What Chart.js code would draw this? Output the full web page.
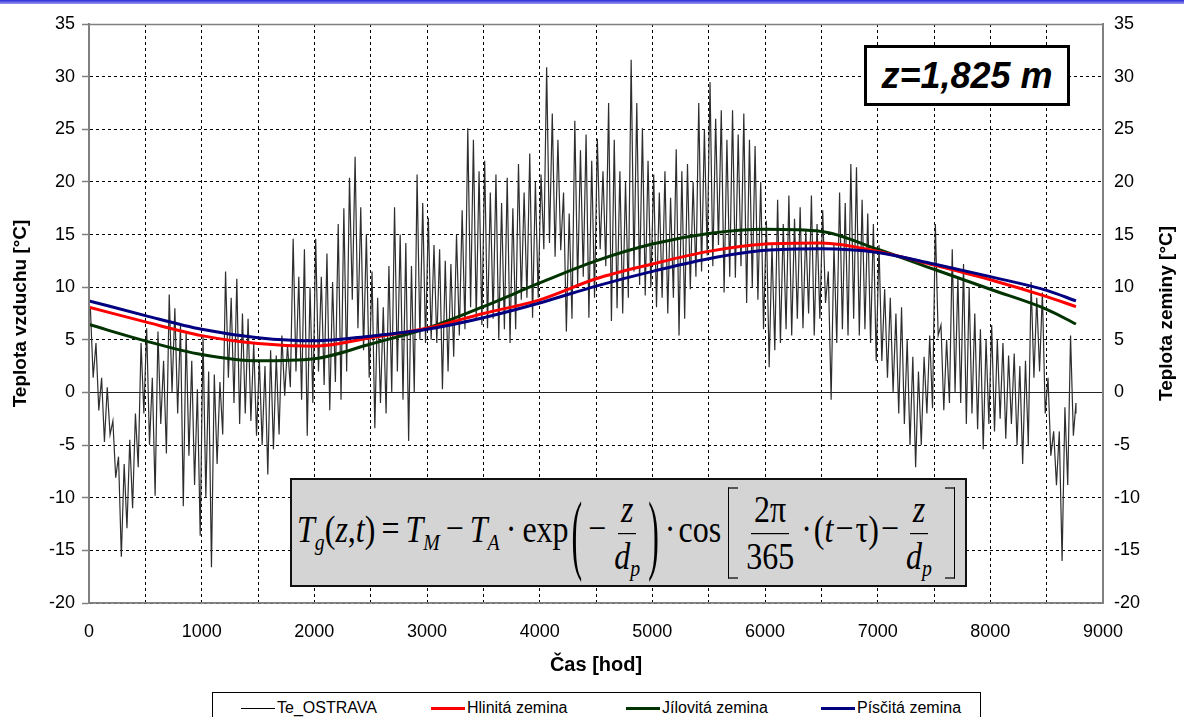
<!DOCTYPE html>
<html><head><meta charset="utf-8">
<script src="https://cdn.jsdelivr.net/npm/chart.js@4.4.1/dist/chart.umd.min.js"></script>
<style>
html,body{margin:0;padding:0;background:#fff;width:1184px;height:717px;overflow:hidden;font-family:"Liberation Sans",Arial,sans-serif;}
#wrap{position:relative;width:1184px;height:717px;}
#topbar{position:absolute;left:0;top:0;width:1184px;height:4px;background:linear-gradient(#2a2ad6,#9c9cf2);}
#c{position:absolute;left:0;top:0;}
#zbox{position:absolute;left:864px;top:45px;width:200px;height:55px;border:3px solid #000;background:#fff;font:italic bold 36px "Liberation Sans",Arial,sans-serif;display:flex;align-items:center;justify-content:center;color:#000;}
#formula{position:absolute;left:290px;top:478px;width:673px;height:105px;border:2px solid #111;background:#d4d4d4;display:flex;align-items:center;overflow:hidden;}
#fx{white-space:nowrap;font-family:"Liberation Serif","Times New Roman",serif;font-size:32px;color:#000;padding-left:5px;line-height:1.2;transform:scaleY(1.2);transform-origin:center center;}
#fx i{font-style:italic;}
#fx .sb{font-size:62%;position:relative;top:0.32em;}
#fx .op{margin:0 3px;}
#fx .opw{margin:0 6px;}
#fx .opn{margin:0 2px;}
#fx .frac{display:inline-flex;flex-direction:column;align-items:center;vertical-align:middle;margin:0 2px;line-height:1.1;}
#fx .num{border-bottom:1.5px solid #000;padding:0 3px 1px 3px;}
#fx .den{padding:1px 3px 0 3px;}
#fx .bigp{display:inline-block;vertical-align:middle;transform:scaleY(2.3);margin:0 3px;line-height:1;}
#fx .brl,#fx .brr{display:inline-block;vertical-align:middle;width:9px;height:74px;border:1.5px solid #000;}
#fx .brl{border-right:none;margin:0 3px 0 7px;}
#fx .brr{border-left:none;margin:0 0 0 8px;}
#legend{position:absolute;left:212px;top:692px;width:767px;height:40px;border:1px solid #000;background:#fff;}
.li{position:absolute;top:6px;display:flex;align-items:center;font-size:16px;color:#000;height:18px;}
.li .sw{display:inline-block;width:34px;margin-right:2px;}
</style>
</head><body>
<div id="wrap">
<canvas id="c" width="1184" height="680"></canvas>
<div id="topbar"></div>
<div id="zbox">z=1,825 m</div>
<div id="formula"><div id="fx"><i>T</i><span class="sb"><i>g</i></span>(<i>z</i>,<i>t</i>)<span class="opw">=</span><i>T</i><span class="sb"><i>M</i></span><span class="opw">−</span><i>T</i><span class="sb"><i>A</i></span><span class="opw">·</span>exp<span class="bigp">(</span><span class="op">−</span><span class="frac"><span class="num"><i>z</i></span><span class="den"><i>d</i><span class="sb"><i>p</i></span></span></span><span class="bigp">)</span><span class="op">·</span>cos<span class="brl"></span><span class="frac"><span class="num">2π</span><span class="den">365</span></span><span class="opn">·</span>(<i>t</i><span class="opn">−</span>τ)<span class="opn">−</span><span class="frac"><span class="num"><i>z</i></span><span class="den"><i>d</i><span class="sb"><i>p</i></span></span></span><span class="brr"></span></div></div>
<div id="legend"></div>
</div>
<script>
// Air temperature Te_OSTRAVA: high / low per 50-hour window
const teHigh = [
  8.1, 4.7, 1.4, 0.5, -2.7, -6.1, -6.8, -4.5, -2.0, 4.7,
  6.1, 1.4, 5.8, 3.0, 9.3, 8.0, 6.4, 5.8, 3.0, 0.3,
  5.4, 2.0, 1.7, 1.0, 11.5, 9.0, 10.8, 7.5, 7.0, 4.7,
  3.0, 2.5, 4.0, 3.5, 5.4, 4.5, 14.6, 11.0, 13.6, 10.0,
  14.6, 11.0, 13.2, 10.5, 16.0, 17.5, 20.4, 22.4, 17.6, 15.0,
  11.5, 9.0, 8.1, 12.0, 17.6, 15.0, 14.2, 12.0, 20.7, 18.0,
  16.6, 14.0, 13.6, 12.5, 12.2, 15.0, 17.3, 25.1, 24.0, 21.0,
  22.0, 19.0, 20.7, 18.0, 20.4, 17.5, 21.7, 19.0, 22.7, 20.0,
  20.7, 30.9, 26.5, 24.0, 19.0, 17.0, 25.8, 23.0, 24.5, 22.0,
  24.1, 21.0, 27.5, 24.0, 21.0, 20.0, 31.6, 27.5, 25.1, 22.0,
  20.7, 19.0, 21.0, 18.5, 23.1, 21.0, 21.7, 20.0, 27.5, 25.0,
  29.5, 26.0, 26.8, 24.0, 26.8, 24.5, 26.5, 24.0, 23.4, 20.0,
  16.3, 14.0, 18.3, 16.0, 18.7, 16.5, 17.6, 15.5, 18.7, 16.0,
  17.3, 11.5, 14.0, 19.0, 18.0, 21.7, 21.4, 18.3, 17.0, 16.0,
  14.0, 9.8, 9.0, 7.5, 8.1, 5.0, 3.4, 2.0, 3.4, 5.4,
  16.0, 6.4, 5.0, 13.6, 11.0, 12.2, 10.0, 7.5, 6.0, 5.0,
  6.4, 5.0, 4.7, 3.5, 3.7, 2.5, 3.0, 10.5, 9.0, 9.5,
  1.4, -3.7, -3.7, -1.4, 5.4, -1.0];
const teLow = [
  1.4, -1.7, -4.7, -4.0, -8.1, -15.6, -12.9, -11.0, -7.1, -2.0,
  -5.0, -9.8, -3.0, -5.8, 0.0, -2.0, -10.8, -6.0, -8.8, -13.6,
  -10.0, -16.6, -6.8, -4.0, 1.4, -1.0, -3.0, -2.0, -2.7, -4.1,
  -5.0, -7.8, -5.4, -4.0, -0.3, 0.5, 2.0, -0.7, -4.1, -1.0,
  2.0, 0.7, -1.7, 1.0, -0.7, 2.0, 8.8, 6.1, 4.0, 1.4,
  -3.4, -1.0, -2.0, 0.0, 2.0, -0.7, -4.6, 0.0, 5.0, 4.7,
  5.0, 4.7, 0.3, 2.0, 3.4, 5.4, 6.0, 8.1, 7.0, 6.4,
  6.1, 7.0, 5.1, 6.0, 4.7, 6.0, 8.8, 9.0, 7.1, 9.0,
  13.6, 14.2, 12.9, 13.5, 5.8, 7.0, 10.2, 11.0, 7.1, 9.0,
  13.6, 12.0, 6.8, 8.0, 7.5, 9.0, 11.5, 10.2, 9.2, 10.0,
  8.1, 9.0, 7.5, 9.0, 5.4, 7.0, 9.8, 11.0, 11.5, 13.0,
  12.0, 14.0, 9.5, 11.0, 10.9, 12.0, 8.5, 10.0, 8.8, 6.0,
  2.4, 4.0, 4.7, 6.0, 5.4, 7.0, 6.1, 7.5, 5.4, 7.0,
  8.5, -0.7, 4.7, 6.0, 5.4, 7.0, 5.4, 6.0, 4.7, 3.0,
  3.0, 1.4, 0.0, -2.0, -3.0, -5.0, -7.1, -5.0, -2.0, -1.5,
  5.4, -1.7, -1.0, 0.0, -1.0, -3.0, -2.0, -3.5, -5.4, -3.0,
  -3.7, -2.5, -4.4, -3.0, -5.0, -6.8, -5.0, 1.4, 2.0, -2.0,
  -6.0, -8.8, -16.0, -8.8, -4.1, -2.0];
const windowHours = 50;
const lastHour = 8760;

// Soil temperature at z = 1.825 m
const soilHours = [0, 500, 1000, 1500, 2000, 2500, 3000, 3500, 4000, 4500, 5000, 5500, 6000, 6500, 7000, 7500, 8000, 8500, 8760];
const hlinita  = [8.1, 6.7, 5.4, 4.65, 4.4, 5.2, 6.1, 7.5, 8.8, 10.8, 12.2, 13.4, 14.1, 14.2, 13.4, 12.1, 10.7, 9.1, 8.15];
const jilovita = [6.45, 4.9, 3.6, 3.0, 3.2, 4.6, 6.1, 8.15, 10.4, 12.5, 14.1, 15.1, 15.5, 15.3, 13.6, 11.7, 9.8, 7.9, 6.5];
const piscita  = [8.7, 7.3, 6.0, 5.2, 4.9, 5.35, 6.0, 7.1, 8.5, 10.1, 11.5, 12.7, 13.5, 13.65, 13.3, 12.2, 11.0, 9.7, 8.7];

const seriesLabels = ['Te_OSTRAVA', 'Hlinitá zemina', 'Jílovitá zemina', 'Písčitá zemina'];
const leftTitle = 'Teplota vzduchu [°C]';
const rightTitle = 'Teplota zeminy [°C]';
const xTitle = 'Čas [hod]';
const xMin = 0, xMax = 9000, xStep = 500, xLabelStep = 1000;
const yMin = -20, yMax = 35, yStep = 5;

const tePoints = [];
teHigh.forEach((h, i) => {
  tePoints.push({x: Math.min(i * windowHours + 12, lastHour), y: h});
  tePoints.push({x: Math.min(i * windowHours + 37, lastHour), y: teLow[i]});
});
const soil = arr => arr.map((v, i) => ({x: soilHours[i], y: v}));

Chart.defaults.font.family = '"Liberation Sans", Arial, sans-serif';
Chart.defaults.color = '#000';

const framePlugin = {
  id: 'frame',
  beforeDatasetsDraw(chart) {
    const {ctx, chartArea: a, scales: {y}} = chart;
    const y0 = Math.round(y.getPixelForValue(0)) + 0.5;
    ctx.save();
    ctx.strokeStyle = '#222'; ctx.lineWidth = 1; ctx.setLineDash([]);
    ctx.beginPath(); ctx.moveTo(a.left, y0); ctx.lineTo(a.right, y0); ctx.stroke();
    ctx.restore();
  },
  afterDatasetsDraw(chart) {
    const {ctx, chartArea: a} = chart;
    ctx.save();
    ctx.strokeStyle = '#808080'; ctx.setLineDash([]);
    ctx.lineWidth = 1.5;
    ctx.beginPath(); ctx.moveTo(a.left, a.top + 0.5); ctx.lineTo(a.right, a.top + 0.5); ctx.stroke();
    ctx.beginPath(); ctx.moveTo(a.left, a.bottom); ctx.lineTo(a.right, a.bottom); ctx.stroke();
    ctx.lineWidth = 2;
    ctx.beginPath(); ctx.moveTo(a.left, a.top); ctx.lineTo(a.left, a.bottom); ctx.stroke();
    ctx.beginPath(); ctx.moveTo(a.right, a.top); ctx.lineTo(a.right, a.bottom); ctx.stroke();
    ctx.restore();
  },
  afterDraw(chart) {
    const {ctx, chartArea: a} = chart;
    ctx.save();
    ctx.translate(1167, (a.top + a.bottom) / 2);
    ctx.rotate(-Math.PI / 2);
    ctx.font = 'bold 19px "Liberation Sans", Arial, sans-serif';
    ctx.fillStyle = '#000';
    ctx.textAlign = 'center';
    ctx.textBaseline = 'middle';
    ctx.fillText(rightTitle, 0, 0);
    ctx.restore();
  }
};

const chart = new Chart(document.getElementById('c'), {
  type: 'line',
  data: {
    datasets: [
      {label: seriesLabels[0], data: tePoints, borderColor: '#2e2e2e', borderWidth: 1.2, pointRadius: 0, tension: 0, order: 3, yAxisID: 'y'},
      {label: seriesLabels[1], data: soil(hlinita), borderColor: '#ff0000', borderWidth: 3, pointRadius: 0, cubicInterpolationMode: 'monotone', order: 1, yAxisID: 'y2'},
      {label: seriesLabels[2], data: soil(jilovita), borderColor: '#003300', borderWidth: 3, pointRadius: 0, cubicInterpolationMode: 'monotone', order: 2, yAxisID: 'y2'},
      {label: seriesLabels[3], data: soil(piscita), borderColor: '#000080', borderWidth: 3, pointRadius: 0, cubicInterpolationMode: 'monotone', order: 0, yAxisID: 'y2'}
    ]
  },
  options: {
    responsive: false, animation: false, devicePixelRatio: 1,
    layout: {padding: {top: 24, left: 0, right: 0, bottom: 0}},
    plugins: {legend: {display: false}, tooltip: {enabled: false}},
    scales: {
      x: {
        type: 'linear', min: xMin, max: xMax,
        ticks: {stepSize: xStep, autoSkip: false, maxRotation: 0, padding: 18, font: {size: 18},
          callback: v => (v % xLabelStep === 0 ? String(v) : '')},
        grid: {color: '#000', lineWidth: 1, drawTicks: false},
        border: {display: true, color: '#808080', width: 1.5, dash: [3, 3]},
        title: {display: true, text: xTitle, font: {size: 20, weight: 'bold'}, padding: {top: 0, bottom: 3}},
        afterFit: s => { s.height = 77; }
      },
      y: {
        position: 'left', min: yMin, max: yMax,
        ticks: {stepSize: yStep, padding: 7, font: {size: 18}},
        grid: {color: '#000', lineWidth: 1, drawTicks: true, tickLength: 7, tickColor: '#808080', tickWidth: 1.5},
        border: {display: true, color: '#808080', width: 2, dash: [3, 3]},
        title: {display: true, text: leftTitle, font: {size: 19, weight: 'bold'}, padding: {top: 9, bottom: 0}},
        afterFit: s => { s.width = 89; }
      },
      y2: {
        position: 'right', min: yMin, max: yMax,
        ticks: {stepSize: yStep, padding: 11, font: {size: 18}},
        grid: {display: false, drawTicks: false},
        border: {display: true, color: '#808080', width: 2},
        title: {display: false},
        afterFit: s => { s.width = 81; }
      }
    }
  },
  plugins: [framePlugin]
});

// HTML legend built from the datasets
const legendEl = document.getElementById('legend');
const legendX = [28, 218, 413, 608];
chart.data.datasets.forEach((ds, i) => {
  const item = document.createElement('div');
  item.className = 'li';
  item.style.left = legendX[i] + 'px';
  const sw = document.createElement('span');
  sw.className = 'sw';
  sw.style.borderTop = (i === 0 ? 1 : ds.borderWidth) + 'px solid ' + (i === 0 ? '#000' : ds.borderColor);
  item.appendChild(sw);
  const t = document.createElement('span');
  t.textContent = ds.label;
  item.appendChild(t);
  legendEl.appendChild(item);
});
</script>
</body></html>
